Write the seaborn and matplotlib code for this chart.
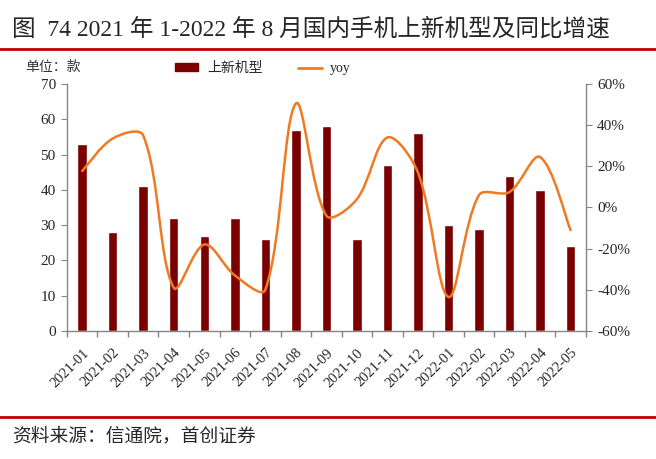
import matplotlib
matplotlib.use("Agg")
import matplotlib.pyplot as plt
import seaborn as sns
import numpy as np
import pandas as pd
from matplotlib.path import Path
from matplotlib.patches import PathPatch, Patch
from matplotlib.lines import Line2D

months = ["2021-01", "2021-02", "2021-03", "2021-04", "2021-05", "2021-06",
          "2021-07", "2021-08", "2021-09", "2021-10", "2021-11", "2021-12",
          "2022-01", "2022-02", "2022-03", "2022-04", "2022-05"]
new_models = [53, 28, 41, 32, 27, 32, 26, 57, 58, 26, 47, 56, 30, 29, 44, 40, 24]
yoy = [17.7, 33.5, 35, -39, -18, -33, -40, 50.5, -4, 4, 34, 17, -43.5, 6, 7.5, 24.5, -11]

left_ticks = list(range(0, 71, 10))
right_ticks = list(range(-60, 61, 20))

BAR = "#7B0000"
LINE = "#F07A22"
GRID = "#868686"
RED = "#C00000"

sns.set_style("white")
plt.rcParams["font.family"] = ["Liberation Serif", "Noto Sans CJK SC", "DejaVu Sans"]


def smooth_path(ax, xs, ys):
    # excel-like smoothing: bezier pieces, tangents weighted by chord length on screen
    tr = ax.transData
    p = tr.transform(np.column_stack([xs, ys]).astype(float))
    n = len(p)
    d = np.linalg.norm(np.diff(p, axis=0), axis=1)
    verts = [p[0]]
    for i in range(n - 1):
        t0 = p[i + 1] - p[i - 1] if i > 0 else p[1] - p[0]
        w0 = d[i] / (d[i - 1] + d[i]) if i > 0 else 0.5
        t1 = p[i + 2] - p[i] if i + 2 < n else p[n - 1] - p[n - 2]
        w1 = d[i] / (d[i] + d[i + 1]) if i + 2 < n else 0.5
        verts += [p[i] + t0 * w0 / 3, p[i + 1] - t1 * w1 / 3, p[i + 1]]
    verts = tr.inverted().transform(np.array(verts))
    codes = [Path.MOVETO] + [Path.CURVE4] * (3 * (n - 1))
    return Path(verts, codes)


fig = plt.figure(figsize=(6.56, 4.59), dpi=100)
ax = fig.add_axes([0.102, 0.279, 0.791, 0.538])

df = pd.DataFrame({"month": months, "count": new_models})
sns.barplot(data=df, x="month", y="count", color=BAR, saturation=1,
            width=0.31, ax=ax)

ax.set_xlim(-0.5, len(months) - 0.5)
ax.set_ylim(0, 70)
ax.set_yticks(left_ticks)
ax.set_xlabel("")
ax.set_ylabel("")
ax.set_xticks(np.arange(-0.5, len(months), 1), minor=True)
ax.tick_params(axis="x", which="major", length=0, pad=11)
ax.tick_params(axis="x", which="minor", bottom=True, length=4, color=GRID, width=1)
ax.tick_params(axis="y", left=True, length=4, color=GRID, labelsize=11, pad=4)
plt.setp(ax.get_xticklabels(), rotation=45, ha="right", va="top",
         rotation_mode="anchor", fontsize=10.5)

ax2 = ax.twinx()
ax2.set_xlim(-0.5, len(months) - 0.5)
ax2.set_ylim(-60, 60)
ax2.set_yticks(right_ticks)
ax2.set_yticklabels([f"{t}%" for t in right_ticks])
ax2.tick_params(axis="y", right=True, length=4, color=GRID, labelsize=11, pad=4)
ax2.add_patch(PathPatch(smooth_path(ax2, range(len(months)), yoy), facecolor="none",
                        edgecolor=LINE, lw=1.8, capstyle="round"))

for a in (ax, ax2):
    a.spines["top"].set_visible(False)
    for s in ("left", "right", "bottom"):
        a.spines[s].set_color(GRID)
        a.spines[s].set_linewidth(1)
ax.spines["right"].set_visible(False)
ax2.spines["left"].set_visible(False)
ax2.spines["bottom"].set_visible(False)

handles = [Patch(color=BAR), Line2D([], [], color=LINE, lw=2)]
fig.legend(handles, ["上新机型", "yoy"], loc="center", bbox_to_anchor=(0.401, 0.85),
           ncol=2, frameon=False, fontsize=10, handlelength=1.7, handleheight=0.5,
           handletextpad=0.6, columnspacing=2.6)

fig.text(0.038, 0.854, "单位：款", fontsize=10, va="center", color="#333333")
fig.text(0.018, 0.935, "图  74 2021 年 1-2022 年 8 月国内手机上新机型及同比增速",
         fontsize=17, va="center", ha="left")
fig.add_artist(Line2D([0, 1], [0.893, 0.893], color=RED, lw=2, transform=fig.transFigure))
fig.add_artist(Line2D([0, 1], [0.092, 0.092], color=RED, lw=2, transform=fig.transFigure))
fig.text(0.018, 0.05, "资料来源：信通院，首创证券", fontsize=13.5, va="center", ha="left",
         style="italic")

fig.savefig("out.png", dpi=100)
